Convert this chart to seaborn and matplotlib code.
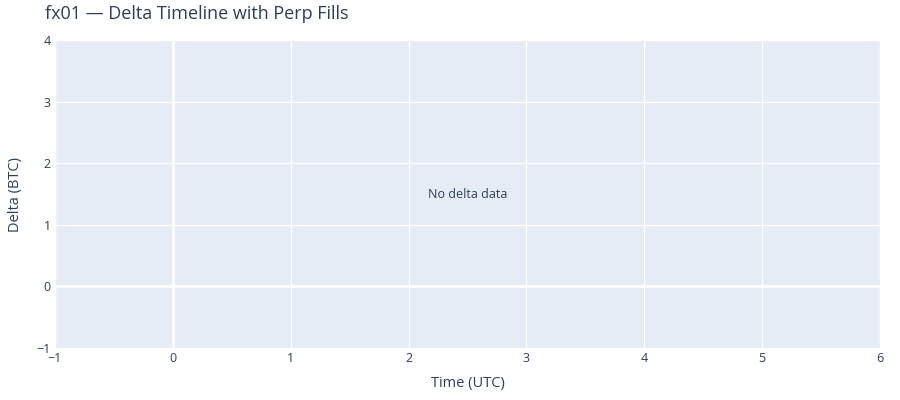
import numpy as np
import pandas as pd
import seaborn as sns
from matplotlib import pyplot as plt

# Data (empty: the chart has no delta data)
times = []
deltas = []
x_ticks = [-1, 0, 1, 2, 3, 4, 5, 6]
y_ticks = [-1, 0, 1, 2, 3, 4]
title = "fx01 — Delta Timeline with Perp Fills"
empty_msg = "No delta data"

text_color = "#2a3f5f"
sns.set_theme(style="darkgrid", rc={
    "axes.facecolor": "#E5ECF6",
    "grid.color": "white",
    "grid.linewidth": 1.0,
    "axes.edgecolor": "#E5ECF6",
    "text.color": text_color,
    "axes.labelcolor": text_color,
    "xtick.color": text_color,
    "ytick.color": text_color,
})
plt.rcParams["font.family"] = ["Open Sans", "DejaVu Sans"]

df = pd.DataFrame({"Time": pd.Series(times, dtype=float), "Delta": pd.Series(deltas, dtype=float)})

fig = plt.figure(figsize=(9, 4), dpi=100)
ax = fig.add_axes([55 / 900, 52 / 400, 825 / 900, 308 / 400])
sns.lineplot(data=df, x="Time", y="Delta", ax=ax)

ax.set_xlim(x_ticks[0], x_ticks[-1])
ax.set_ylim(y_ticks[0], y_ticks[-1])
ax.set_xticks(x_ticks)
ax.set_yticks(y_ticks)
ax.set_xticklabels(["\u2212" + str(-t) if t < 0 else str(t) for t in x_ticks], fontsize=9)
ax.set_yticklabels(["\u2212" + str(-t) if t < 0 else str(t) for t in y_ticks], fontsize=9)
ax.tick_params(length=0, pad=3)
for s in ax.spines.values():
    s.set_visible(False)

# zero lines
ax.axhline(0, color="white", linewidth=2, zorder=1)
ax.axvline(0, color="white", linewidth=2, zorder=1)

ax.set_xlabel("Time (UTC)", fontsize=10.5, labelpad=8)
ax.set_ylabel("Delta (BTC)", fontsize=10.5, labelpad=10)

ax.text(0.5, 0.5, empty_msg, transform=ax.transAxes, ha="center", va="center",
        fontsize=9, color=text_color)

fig.text(45 / 900, 1 - 14 / 400, title, fontsize=13, ha="left", va="center", color=text_color)

fig.savefig("out.png", dpi=100)
